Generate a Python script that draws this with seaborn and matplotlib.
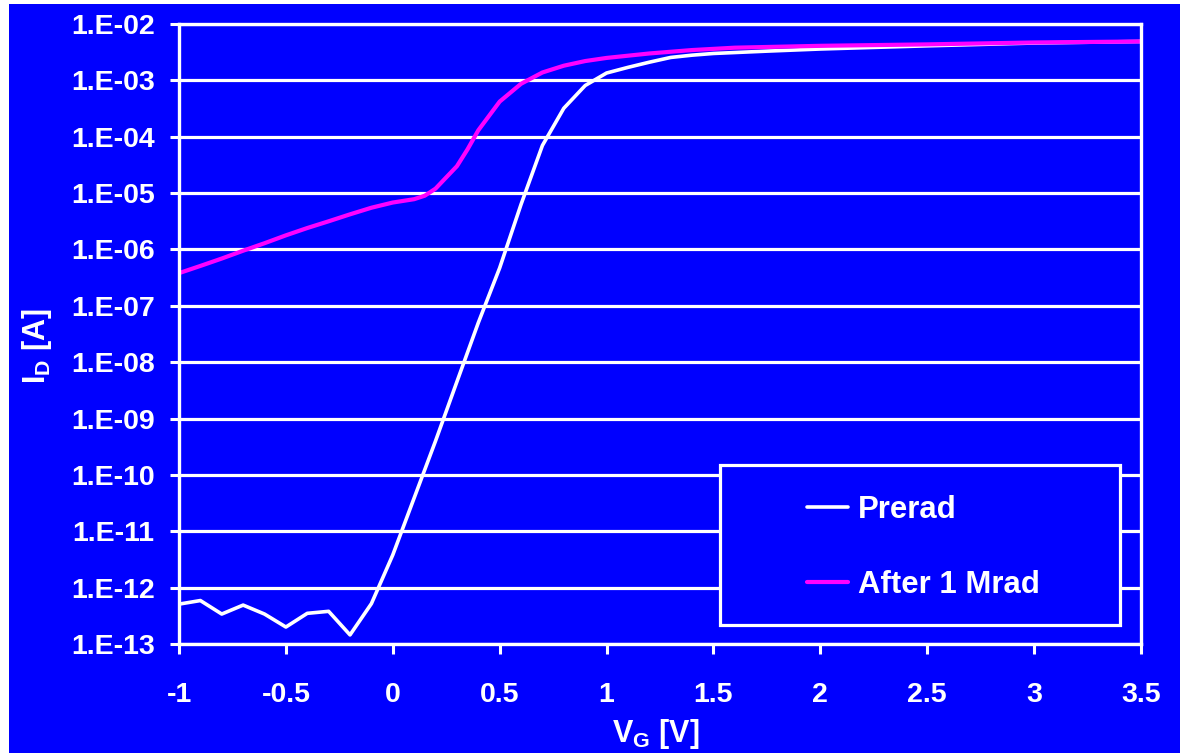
import matplotlib
matplotlib.use("Agg")
import matplotlib.pyplot as plt
from matplotlib.patches import Rectangle
from matplotlib.ticker import FixedLocator, FixedFormatter
import numpy as np
import pandas as pd
import seaborn as sns

# Gate voltage sweep [V]
vg_prerad = [-1.0, -0.9, -0.8, -0.7, -0.6, -0.5, -0.4, -0.3, -0.2, -0.1,
             0.0, 0.1, 0.2, 0.3, 0.4, 0.5, 0.6, 0.7, 0.8, 0.9,
             1.0, 1.1, 1.2, 1.3, 1.4, 1.5, 1.75, 2.0, 2.5, 3.0, 3.5]
# Drain current before irradiation [A]
id_prerad = [5.1e-13, 5.9e-13, 3.4e-13, 4.9e-13, 3.4e-13, 2.0e-13, 3.5e-13, 3.8e-13, 1.45e-13, 5.2e-13,
             3.8e-12, 3.9e-11, 4.0e-10, 4.5e-9, 5.0e-8, 4.7e-7, 6.3e-6, 7.0e-5, 3.2e-4, 8.1e-4,
             1.35e-3, 1.7e-3, 2.1e-3, 2.55e-3, 2.8e-3, 3.0e-3, 3.3e-3, 3.6e-3, 4.1e-3, 4.6e-3, 4.9e-3]

vg_irrad = [-1.0, -0.9, -0.8, -0.7, -0.6, -0.5, -0.4, -0.3, -0.2, -0.1,
            0.0, 0.1, 0.15, 0.2, 0.25, 0.3, 0.35, 0.4, 0.5, 0.6, 0.7, 0.8, 0.9,
            1.0, 1.2, 1.4, 1.6, 2.0, 2.5, 3.0, 3.5]
# Drain current after 1 Mrad total dose [A]
id_irrad = [3.8e-7, 5.1e-7, 6.9e-7, 9.5e-7, 1.29e-6, 1.78e-6, 2.4e-6, 3.16e-6, 4.2e-6, 5.5e-6,
            6.8e-6, 7.8e-6, 9.0e-6, 1.2e-5, 1.9e-5, 3.0e-5, 6.0e-5, 1.3e-4, 4.2e-4, 8.7e-4, 1.38e-3, 1.82e-3, 2.2e-3,
            2.5e-3, 3.0e-3, 3.45e-3, 3.8e-3, 4.1e-3, 4.35e-3, 4.7e-3, 4.9e-3]

x_ticks = [-1, -0.5, 0, 0.5, 1, 1.5, 2, 2.5, 3, 3.5]
y_exponents = [-13, -12, -11, -10, -9, -8, -7, -6, -5, -4, -3, -2]

label_prerad = "Prerad"
label_irrad = "After 1 Mrad"

BLUE = "#0000FF"
WHITE = "#FFFFFF"
MAGENTA = "#FF00FF"

sns.set_style("dark")
plt.rcParams["font.family"] = ["Liberation Sans", "DejaVu Sans"]
plt.rcParams["font.weight"] = "bold"
plt.rcParams["mathtext.fontset"] = "custom"
plt.rcParams["mathtext.rm"] = "Liberation Sans:bold"
plt.rcParams["mathtext.default"] = "rm"

df_pre = pd.DataFrame({"VG": vg_prerad, "ID": id_prerad, "curve": label_prerad})
df_irr = pd.DataFrame({"VG": vg_irrad, "ID": id_irrad, "curve": label_irrad})

fig = plt.figure(figsize=(11.8, 7.53), dpi=100, facecolor="white")
# blue slide background leaving a thin white margin on left and top
fig.patches.append(Rectangle((9 / 1180, 0), 1.0, (753 - 4) / 753,
                             transform=fig.transFigure, facecolor=BLUE,
                             edgecolor="none", zorder=-10))

ax = fig.add_axes([179 / 1180, 1 - 644 / 753, 962 / 1180, 620 / 753])
ax.set_facecolor(BLUE)

sns.lineplot(data=df_pre, x="VG", y="ID", color=WHITE, linewidth=2.6,
             label=label_prerad, ax=ax, zorder=4, estimator=None, sort=False)
sns.lineplot(data=df_irr, x="VG", y="ID", color=MAGENTA, linewidth=3.0,
             label=label_irrad, ax=ax, zorder=5, estimator=None, sort=False)

ax.set_yscale("log")
ax.set_xlim(-1, 3.5)
ax.set_ylim(1e-13, 1e-2)

y_ticks = [10.0 ** e for e in y_exponents]
ax.yaxis.set_major_locator(FixedLocator(y_ticks))
ax.yaxis.set_major_formatter(FixedFormatter([f"1.E-{abs(e):02d}" for e in y_exponents]))
ax.yaxis.set_minor_locator(FixedLocator([]))
ax.xaxis.set_major_locator(FixedLocator(x_ticks))
ax.xaxis.set_major_formatter(FixedFormatter([f"{t:g}" for t in x_ticks]))

ax.grid(axis="y", color=WHITE, linewidth=2.3, zorder=1)
ax.grid(axis="x", visible=False)
ax.set_axisbelow(True)

for side in ["left", "bottom", "right", "top"]:
    ax.spines[side].set_visible(True)
    ax.spines[side].set_color(WHITE)
    ax.spines[side].set_linewidth(2.4)
    ax.spines[side].set_zorder(6)

ax.tick_params(axis="y", which="major", direction="out", length=6.5, width=2.2,
               color=WHITE, labelcolor=WHITE, labelsize=20.5, pad=11, left=True)
ax.tick_params(axis="x", which="major", direction="out", length=7.5, width=2.2,
               color=WHITE, labelcolor=WHITE, labelsize=20.5, pad=20, bottom=True)
for lbl in ax.get_xticklabels() + ax.get_yticklabels():
    lbl.set_fontweight("bold")

ax.set_xlabel("V$_{G}$ [V]", color=WHITE, fontsize=22, fontweight="bold")
ax.set_ylabel("I$_{D}$ [A]", color=WHITE, fontsize=22, fontweight="bold")
ax.xaxis.set_label_coords(0.496, -0.118)
ax.yaxis.set_label_coords(-0.13, 0.48)

# legend panel
ax.add_patch(Rectangle((0.5624, 0.0306), 0.978 - 0.5624, 0.2887 - 0.0306,
                       transform=ax.transAxes, facecolor=BLUE, edgecolor=WHITE,
                       linewidth=2.3, zorder=7))
leg = ax.legend(loc="center left", bbox_to_anchor=(0.653, 0.1555), frameon=False,
                handlelength=1.32, handletextpad=0.3, labelspacing=1.45,
                borderpad=0, borderaxespad=0,
                prop={"family": "Liberation Sans", "weight": "bold", "size": 22.4})
leg.set_zorder(8)
for txt in leg.get_texts():
    txt.set_color(WHITE)

fig.savefig("out.png", dpi=100, facecolor=fig.get_facecolor())
